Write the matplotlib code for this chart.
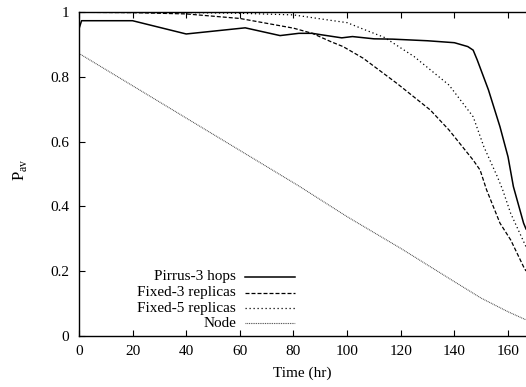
import numpy as np
import matplotlib
matplotlib.use("Agg")
import matplotlib.pyplot as plt

# availability over time
pirrus_t = [0, 1, 20, 40, 62, 75, 82, 87, 90, 98, 102, 110, 117, 130, 140,
            145, 147, 148.5, 152.7, 157, 160, 162, 165.8, 166.7]
pirrus_p = [0.948, 0.974, 0.974, 0.933, 0.952, 0.928, 0.935, 0.935, 0.931,
            0.921, 0.925, 0.918, 0.917, 0.912, 0.906, 0.894, 0.883, 0.853,
            0.760, 0.646, 0.553, 0.461, 0.348, 0.33]

fixed3_t = [0, 20, 40, 60, 80, 87, 94, 98.5, 106, 118.6, 131, 138, 147,
            149.6, 152, 157, 161, 165.8, 166.7]
fixed3_p = [1.0, 0.999, 0.995, 0.981, 0.951, 0.935, 0.909, 0.894, 0.858,
            0.780, 0.698, 0.636, 0.543, 0.512, 0.451, 0.348, 0.296, 0.213, 0.20]

fixed5_t = [0, 40, 60, 80, 94, 100, 106, 114, 125, 138, 147, 151, 156, 158,
            161, 166.7]
fixed5_p = [1.0, 0.999, 0.997, 0.992, 0.975, 0.968, 0.948, 0.922, 0.863,
            0.775, 0.677, 0.584, 0.492, 0.451, 0.378, 0.275]

node_t = [0, 20, 40, 60, 82, 100, 120, 140, 150, 160, 166.7]
node_p = [0.873, 0.773, 0.673, 0.573, 0.463, 0.368, 0.270, 0.167, 0.116,
          0.074, 0.049]

labels = ['Pirrus-3 hops', 'Fixed-3 replicas', 'Fixed-5 replicas', 'Node']
xticks = [0, 20, 40, 60, 80, 100, 120, 140, 160]
yticks = [0, 0.2, 0.4, 0.6, 0.8, 1]
ytick_labels = ['0', '0.2', '0.4', '0.6', '0.8', '1']

plt.rcParams['font.family'] = ['Liberation Serif', 'DejaVu Serif']
plt.rcParams['mathtext.fontset'] = 'custom'
plt.rcParams['mathtext.rm'] = 'Liberation Serif'
plt.rcParams['font.size'] = 11

fig = plt.figure(figsize=(5.26, 3.87), dpi=100)
ax = fig.add_axes([0.15, 0.1326, 0.85, 0.8356])

styles = [dict(color='black', lw=1.1),
          dict(color='black', lw=0.9, dashes=(3.2, 1.6)),
          dict(color='black', lw=0.9, dashes=(1, 2.2)),
          dict(color='#444444', lw=0.8, dashes=(0.8, 0.8))]

series = [(pirrus_t, pirrus_p), (fixed3_t, fixed3_p),
          (fixed5_t, fixed5_p), (node_t, node_p)]
for (t, p), st in zip(series, styles):
    ax.plot(t, p, **st)

ax.set_xlim(0, 166.7)
ax.set_ylim(0, 1)
ax.set_xticks(xticks)
ax.set_yticks(yticks)
ax.set_yticklabels(ytick_labels)
ax.tick_params(direction='in', length=4.5, width=0.8, top=True, right=False,
               labelsize=11)
ax.tick_params(axis='x', pad=7)
ax.tick_params(axis='y', pad=7)
for s in ax.spines.values():
    s.set_linewidth(1.0)
ax.spines['right'].set_visible(False)

ax.set_xlabel('Time (hr)', fontsize=11)
ax.set_ylabel(r'$\mathrm{P}_{\mathrm{av}}$', fontsize=12)
ax.xaxis.set_label_coords(0.5, -0.095)
ax.yaxis.set_label_coords(-0.112, 0.512)

# gnuplot-style key: right-aligned text, sample line to its right
row_y = [0.1824, 0.1330, 0.0847, 0.0383]
for lab, st, yy in zip(labels, styles, row_y):
    ax.text(0.3514, yy, lab, transform=ax.transAxes, ha='right',
            va='center', fontsize=11)
    ax.plot([0.3725, 0.4843], [yy, yy], transform=ax.transAxes, **st)

fig.savefig('out.png', dpi=100)
